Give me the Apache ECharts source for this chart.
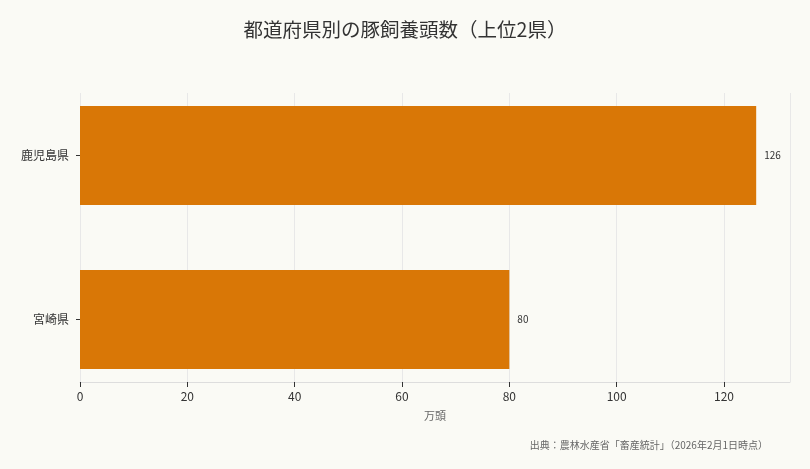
<!DOCTYPE html>
<html><head><meta charset="utf-8">
<script src="https://cdn.jsdelivr.net/npm/echarts@6/dist/echarts.min.js"></script>
<style>html,body{margin:0;padding:0;background:#fafaf5}#c{width:810px;height:469px}</style>
</head><body><div id="c"></div>
<script>
const categories = ['宮崎県', '鹿児島県'];
const values = [80, 126];
const titleText = '都道府県別の豚飼養頭数（上位2県）';
const axisName = '万頭';
const sourceText = '出典：農林水産省「畜産統計」（2026年2月1日時点）';
const FONT = '"Noto Sans CJK JP", "Noto Sans", sans-serif';
const xMax = Math.max.apply(null, values) * 1.05;
const chart = echarts.init(document.getElementById('c'));
chart.setOption({
  backgroundColor: '#fafaf5',
  textStyle: { fontFamily: FONT },
  title: [{
    text: titleText, left: 'center', top: 15,
    textStyle: { fontSize: 19.5, fontWeight: 'normal', color: '#333', fontFamily: FONT }
  }, {
    text: sourceText, right: 37, bottom: 14,
    textStyle: { fontSize: 10, fontWeight: 'normal', color: '#666', fontFamily: FONT }
  }],
  grid: [
    { left: 80, right: 20, top: 93, bottom: 87 },
    { left: 80, right: 20, top: 73.5, bottom: 67.5 }
  ],
  xAxis: [{
    gridIndex: 0, type: 'value', min: 0, max: xMax, interval: 20,
    name: axisName, nameLocation: 'middle', nameGap: 28,
    nameTextStyle: { fontSize: 11, color: '#666' },
    axisLine: { show: true, lineStyle: { color: '#ddd' } },
    axisTick: { show: true, lineStyle: { color: '#333' } },
    axisLabel: { fontSize: 12, color: '#333', showMaxLabel: false },
    splitLine: { show: true, lineStyle: { color: '#e8e8e8' } }
  }, {
    gridIndex: 1, type: 'value', min: 0, max: xMax, interval: 20, show: false,
    splitLine: { show: false }
  }],
  yAxis: [{
    gridIndex: 0, type: 'category', data: categories, show: false
  }, {
    gridIndex: 1, type: 'category', data: categories,
    axisLine: { show: false },
    axisTick: { show: true, alignWithLabel: true, length: 4, lineStyle: { color: '#333' } },
    axisLabel: { fontSize: 12, color: '#333', margin: 11 },
    splitLine: { show: false }
  }],
  series: [{
    type: 'bar', xAxisIndex: 1, yAxisIndex: 1, data: values, barWidth: 99,
    itemStyle: { color: '#d97706' },
    label: { show: true, position: 'right', fontSize: 10, color: '#333', distance: 8 }
  }]
});
</script></body></html>
